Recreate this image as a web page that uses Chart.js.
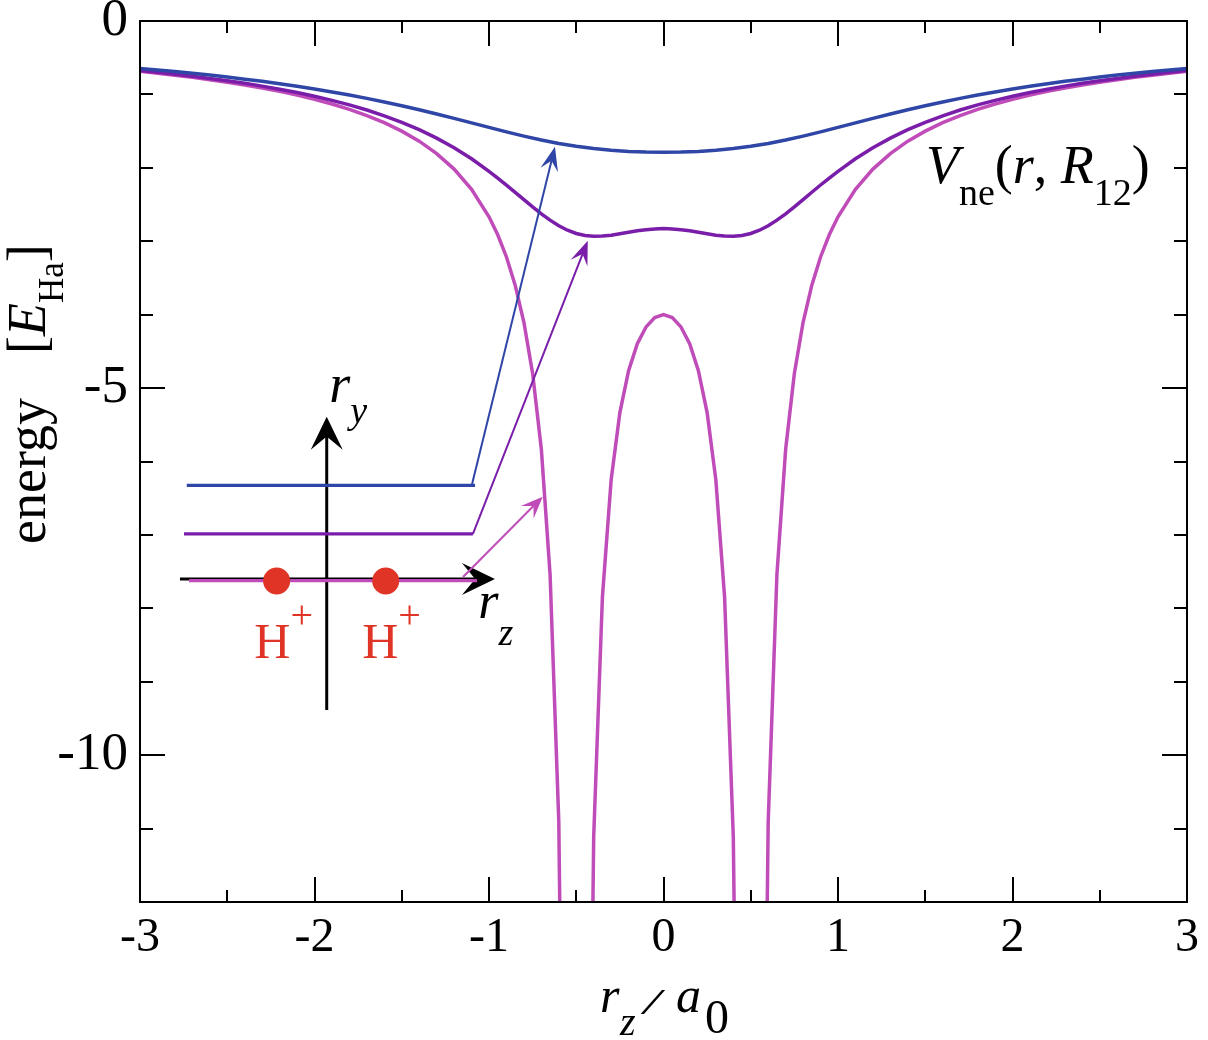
<!DOCTYPE html>
<html>
<head>
<meta charset="utf-8">
<script src="https://cdn.jsdelivr.net/npm/chart.js@4.4.1/dist/chart.umd.min.js"></script>
<style>
  html, body { margin: 0; padding: 0; background: #fff; }
</style>
</head>
<body>
<canvas id="vneChart" width="1208" height="1040"></canvas>
<script>
// r_z grid (units of a0) for the upper curve
const rz = [-3, -2.9, -2.8, -2.7, -2.6, -2.5, -2.4, -2.3, -2.2, -2.1, -2, -1.9, -1.8, -1.7, -1.6, -1.5,
    -1.4, -1.3, -1.2, -1.1, -1, -0.9, -0.8, -0.7, -0.6, -0.5, -0.4, -0.3, -0.2, -0.1, 0,
    0.1, 0.2, 0.3, 0.4, 0.5, 0.6, 0.7, 0.8, 0.9, 1, 1.1, 1.2, 1.3, 1.4, 1.5, 1.6, 1.7, 1.8, 1.9, 2,
    2.1, 2.2, 2.3, 2.4, 2.5, 2.6, 2.7, 2.8, 2.9, 3];

// upper line in the inset (blue)
const vneBlue = [-0.646, -0.667, -0.689, -0.712, -0.737, -0.763, -0.792, -0.822, -0.854, -0.889, -0.926,
    -0.966, -1.008, -1.054, -1.103, -1.154, -1.209, -1.267, -1.326, -1.387, -1.449, -1.510, -1.568,
    -1.621, -1.668, -1.707, -1.738, -1.761, -1.777, -1.786, -1.789,
    -1.786, -1.777, -1.761, -1.738, -1.707, -1.668, -1.621, -1.568, -1.510, -1.449, -1.387, -1.326,
    -1.267, -1.209, -1.154, -1.103, -1.054, -1.008, -0.966, -0.926, -0.889, -0.854, -0.822, -0.792,
    -0.763, -0.737, -0.712, -0.689, -0.667, -0.646];

// middle line in the inset (purple), finer between -1 and 1
const rzPurple = [-3, -2.9, -2.8, -2.7, -2.6, -2.5, -2.4, -2.3, -2.2, -2.1, -2, -1.9, -1.8, -1.7, -1.6, -1.5,
    -1.4, -1.3, -1.2, -1.1, -1, -0.95, -0.9, -0.85, -0.8, -0.75, -0.7, -0.65, -0.6, -0.55, -0.5, -0.45,
    -0.4, -0.35, -0.3, -0.25, -0.2, -0.15, -0.1, -0.05, 0, 0.05, 0.1, 0.15, 0.2, 0.25, 0.3, 0.35, 0.4,
    0.45, 0.5, 0.55, 0.6, 0.65, 0.7, 0.75, 0.8, 0.85, 0.9, 0.95, 1, 1.1, 1.2, 1.3, 1.4, 1.5, 1.6, 1.7,
    1.8, 1.9, 2, 2.1, 2.2, 2.3, 2.4, 2.5, 2.6, 2.7, 2.8, 2.9, 3];
const vnePurple = [-0.675, -0.699, -0.724, -0.752, -0.782, -0.814, -0.849, -0.887, -0.929, -0.974, -1.025,
    -1.081, -1.143, -1.212, -1.291, -1.380, -1.480, -1.595, -1.727, -1.877, -2.047, -2.139, -2.234,
    -2.333, -2.433, -2.532, -2.626, -2.713, -2.789, -2.850, -2.894, -2.922, -2.932, -2.930, -2.917,
    -2.898, -2.877, -2.858, -2.842, -2.832, -2.828,
    -2.832, -2.842, -2.858, -2.877, -2.898, -2.917, -2.930, -2.932, -2.922, -2.894, -2.850, -2.789,
    -2.713, -2.626, -2.532, -2.433, -2.333, -2.234, -2.139, -2.047, -1.877, -1.727, -1.595, -1.480,
    -1.380, -1.291, -1.212, -1.143, -1.081, -1.025, -0.974, -0.929, -0.887, -0.849, -0.814, -0.782,
    -0.752, -0.724, -0.699, -0.675];

// line through the nuclei (pink), finer near the protons
const rzPink = [-3, -2.9, -2.8, -2.7, -2.6, -2.5, -2.4, -2.3, -2.2, -2.1, -2, -1.9, -1.8, -1.7, -1.6, -1.5,
    -1.4, -1.3, -1.2, -1.1, -1, -0.95, -0.9, -0.85, -0.8, -0.75, -0.7, -0.65, -0.6, -0.55,
    -0.45, -0.4, -0.35, -0.3, -0.25, -0.2, -0.15, -0.1, -0.05, 0, 0.05, 0.1, 0.15, 0.2, 0.25, 0.3, 0.35,
    0.4, 0.45, 0.55, 0.6, 0.65, 0.7, 0.75, 0.8, 0.85, 0.9, 0.95, 1, 1.1, 1.2, 1.3, 1.4, 1.5, 1.6, 1.7,
    1.8, 1.9, 2, 2.1, 2.2, 2.3, 2.4, 2.5, 2.6, 2.7, 2.8, 2.9, 3];
const vnePink = [-0.686, -0.711, -0.738, -0.767, -0.799, -0.833, -0.871, -0.913, -0.959, -1.010, -1.067,
    -1.131, -1.204, -1.288, -1.385, -1.500, -1.637, -1.806, -2.017, -2.292, -2.667, -2.912, -3.214,
    -3.598, -4.103, -4.800, -5.833, -7.536, -10.909, -20.95,
    -21.05, -11.111, -7.843, -6.250, -5.333, -4.762, -4.396, -4.167, -4.040, -4.000, -4.040, -4.167,
    -4.396, -4.762, -5.333, -6.250, -7.843, -11.111, -21.05,
    -20.95, -10.909, -7.536, -5.833, -4.800, -4.103, -3.598, -3.214, -2.912, -2.667, -2.292, -2.017,
    -1.806, -1.637, -1.500, -1.385, -1.288, -1.204, -1.131, -1.067, -1.010, -0.959, -0.913, -0.871,
    -0.833, -0.799, -0.767, -0.738, -0.711, -0.686];

// ticks
const xMajor = [-3, -2, -1, 0, 1, 2, 3];
const xMinor = [-2.5, -1.5, -0.5, 0.5, 1.5, 2.5];
const yMajor = [-10, -5, 0];
const yMinor = [-12, -11, -9, -8, -7, -6, -4, -3, -2, -1];

const BLUE = '#2f46a6';
const PURPLE = '#7a1eaa';
const PINK = '#bf4cb8';
const RED = '#e03426';
const SERIF = '"Liberation Serif", "Times New Roman", serif';

function toPoints(xs, ys) {
    return xs.map((x, i) => ({ x: x, y: ys[i] }));
}

function drawRuns(ctx, x, y, list) {
    list.forEach(r => {
        ctx.font = r.font;
        ctx.fillText(r.t, x + (r.dx || 0), y + (r.dy || 0));
        x += ctx.measureText(r.t).width + (r.dx || 0);
    });
    return x;
}

function arrowHead(ctx, x0, y0, x1, y1, len, half, color) {
    const ang = Math.atan2(y1 - y0, x1 - x0);
    ctx.save();
    ctx.translate(x1, y1);
    ctx.rotate(ang);
    ctx.beginPath();
    ctx.moveTo(0, 0);
    ctx.lineTo(-len, -half);
    ctx.lineTo(-len * 0.6, 0);
    ctx.lineTo(-len, half);
    ctx.closePath();
    ctx.fillStyle = color;
    ctx.fill();
    ctx.restore();
}

function line(ctx, pts, width, color) {
    ctx.beginPath();
    ctx.moveTo(pts[0][0], pts[0][1]);
    for (let i = 1; i < pts.length; i++) ctx.lineTo(pts[i][0], pts[i][1]);
    ctx.lineWidth = width;
    ctx.strokeStyle = color;
    ctx.lineCap = 'butt';
    ctx.lineJoin = 'miter';
    ctx.stroke();
}

// frame, inward ticks, inset sketch and labels
const decorations = {
    id: 'decorations',
    afterDatasetsDraw(chart) {
        const ctx = chart.ctx;
        const a = chart.chartArea;
        const xs = chart.scales.x;
        const ys = chart.scales.y;
        const X = v => xs.getPixelForValue(v);
        const Y = v => ys.getPixelForValue(v);
        ctx.save();

        // frame
        ctx.strokeStyle = '#000';
        ctx.lineWidth = 2;
        ctx.strokeRect(a.left, a.top, a.right - a.left, a.bottom - a.top);

        // ticks on all four sides
        ctx.lineWidth = 2;
        ctx.beginPath();
        const tickX = (v, len) => {
            const px = Math.round(X(v));
            ctx.moveTo(px, a.bottom); ctx.lineTo(px, a.bottom - len);
            ctx.moveTo(px, a.top); ctx.lineTo(px, a.top + len);
        };
        const tickY = (v, len) => {
            const py = Math.round(Y(v));
            ctx.moveTo(a.left, py); ctx.lineTo(a.left + len, py);
            ctx.moveTo(a.right, py); ctx.lineTo(a.right - len, py);
        };
        xMajor.forEach(v => tickX(v, 25));
        xMinor.forEach(v => tickX(v, 12));
        yMajor.forEach(v => tickY(v, 25));
        yMinor.forEach(v => tickY(v, 13));
        ctx.stroke();

        // inset: coordinate axes
        const zAxisY = Y(-7.60);
        const zAxisEnd = X(-0.966);
        line(ctx, [[X(-2.771), zAxisY], [zAxisEnd - 18, zAxisY]], 3, '#000');
        arrowHead(ctx, X(-2.771), zAxisY, zAxisEnd, zAxisY, 33, 16, '#000');
        const yAxisX = X(-1.930);
        const yAxisTop = Y(-5.389);
        line(ctx, [[yAxisX, Y(-9.384)], [yAxisX, yAxisTop + 18]], 3, '#000');
        arrowHead(ctx, yAxisX, Y(-9.384), yAxisX, yAxisTop, 33, 16, '#000');

        // inset: the three sampling lines with arrows to the curves
        const insetLines = [
            { y: -6.326, x0: -2.732, x1: -1.080, from: [-1.099, -6.326], tip: [-0.622, -1.712], c: BLUE, len: 24, half: 9 },
            { y: -6.987, x0: -2.748, x1: -1.092, from: [-1.092, -6.987], tip: [-0.434, -2.992], c: PURPLE, len: 24, half: 9 },
            { y: -7.623, x0: -2.719, x1: -1.069, from: [-1.149, -7.573], tip: [-0.692, -6.479], c: PINK, len: 22, half: 9 }
        ];
        insetLines.forEach(l => {
            line(ctx, [[X(l.x0), Y(l.y)], [X(l.x1), Y(l.y)]], 3.2, l.c);
            const fx = X(l.from[0]), fy = Y(l.from[1]);
            const tx = X(l.tip[0]), ty = Y(l.tip[1]);
            const ang = Math.atan2(ty - fy, tx - fx);
            line(ctx, [[fx, fy], [tx - Math.cos(ang) * l.len * 0.6, ty - Math.sin(ang) * l.len * 0.6]], 2, l.c);
            arrowHead(ctx, fx, fy, tx, ty, l.len, l.half, l.c);
        });

        // protons
        ctx.fillStyle = RED;
        [-2.217, -1.592].forEach(v => {
            ctx.beginPath();
            ctx.arc(X(v), Y(-7.627), 13.5, 0, Math.PI * 2);
            ctx.fill();
        });
        ctx.textBaseline = 'alphabetic';
        ctx.textAlign = 'left';
        [-2.345, -1.727].forEach(v => {
            drawRuns(ctx, X(v), Y(-8.672), [
                { t: 'H', font: '50px ' + SERIF },
                { t: '+', font: '40px ' + SERIF, dy: -30, dx: 0 }
            ]);
        });

        // axis labels of the inset
        ctx.fillStyle = '#000';
        drawRuns(ctx, X(-1.915), Y(-5.189), [
            { t: 'r', font: 'italic 54px ' + SERIF },
            { t: 'y', font: 'italic 38px ' + SERIF, dy: 21, dx: 0 }
        ]);
        drawRuns(ctx, X(-1.062), Y(-8.131), [
            { t: 'r', font: 'italic 52px ' + SERIF },
            { t: 'z', font: 'italic 38px ' + SERIF, dy: 27, dx: 0 }
        ]);

        // curve label
        drawRuns(ctx, 926, 183, [
            { t: 'V', font: 'italic 54px ' + SERIF },
            { t: 'ne', font: '38px ' + SERIF, dy: 22 },
            { t: '(', font: '54px ' + SERIF },
            { t: 'r', font: 'italic 54px ' + SERIF },
            { t: ', ', font: '54px ' + SERIF },
            { t: 'R', font: 'italic 54px ' + SERIF },
            { t: '12', font: '38px ' + SERIF, dy: 22 },
            { t: ')', font: '54px ' + SERIF }
        ]);

        // x axis title
        ctx.font = 'italic 50px ' + SERIF;
        ctx.fillText('r', 600, 1012);
        ctx.font = 'italic 40px ' + SERIF;
        ctx.fillText('z', 620, 1035);
        ctx.save();
        ctx.translate(647, 1014);
        ctx.scale(1.7, 1);
        ctx.font = 'italic 36px ' + SERIF;
        ctx.fillText('/', -2, 0);
        ctx.restore();
        ctx.font = 'italic 50px ' + SERIF;
        ctx.fillText('a', 676, 1012);
        ctx.font = '48px ' + SERIF;
        ctx.fillText('0', 705, 1033);

        // y axis title (rotated)
        ctx.save();
        ctx.translate(45, 544);
        ctx.rotate(-Math.PI / 2);
        drawRuns(ctx, 0, 0, [
            { t: 'energy', font: '54px ' + SERIF }
        ]);
        drawRuns(ctx, 190, 0, [
            { t: '[', font: '54px ' + SERIF },
            { t: 'E', font: 'italic 54px ' + SERIF },
            { t: 'Ha', font: '35px ' + SERIF, dy: 18 },
            { t: ']', font: '54px ' + SERIF }
        ]);
        ctx.restore();

        ctx.restore();
    }
};

const ctx = document.getElementById('vneChart');

new Chart(ctx, {
    type: 'line',
    data: {
        datasets: [
            {
                label: 'blue',
                data: toPoints(rz, vneBlue),
                borderColor: BLUE,
                borderWidth: 3.5,
                pointRadius: 0,
                tension: 0
            },
            {
                label: 'purple',
                data: toPoints(rzPurple, vnePurple),
                borderColor: PURPLE,
                borderWidth: 3.5,
                pointRadius: 0,
                tension: 0
            },
            {
                label: 'pink',
                data: toPoints(rzPink, vnePink),
                borderColor: PINK,
                borderWidth: 3.5,
                pointRadius: 0,
                tension: 0
            }
        ]
    },
    options: {
        responsive: false,
        animation: false,
        devicePixelRatio: 1,
        layout: {
            padding: { top: 21, right: 21, left: 0, bottom: 0 }
        },
        plugins: {
            legend: { display: false },
            tooltip: { enabled: false }
        },
        scales: {
            x: {
                type: 'linear',
                min: -3,
                max: 3,
                grid: { display: false, drawTicks: false },
                border: { display: false },
                afterBuildTicks: s => { s.ticks = xMajor.map(v => ({ value: v })); },
                afterFit: s => {
                    s.height = 138;
                    s.paddingLeft = 0; s.paddingRight = 0;
                },
                ticks: {
                    color: '#000',
                    padding: 8,
                    maxRotation: 0,
                    font: { family: SERIF, size: 48 },
                    callback: v => String(v)
                }
            },
            y: {
                type: 'linear',
                min: -12,
                max: 0,
                grid: { display: false, drawTicks: false },
                border: { display: false },
                afterBuildTicks: s => { s.ticks = yMajor.map(v => ({ value: v })); },
                afterFit: s => {
                    s.width = 140;
                    s.paddingTop = 0; s.paddingBottom = 0;
                },
                ticks: {
                    color: '#000',
                    padding: 12,
                    font: { family: SERIF, size: 53 },
                    callback: v => String(v)
                }
            }
        }
    },
    plugins: [decorations]
});
</script>
</body>
</html>
